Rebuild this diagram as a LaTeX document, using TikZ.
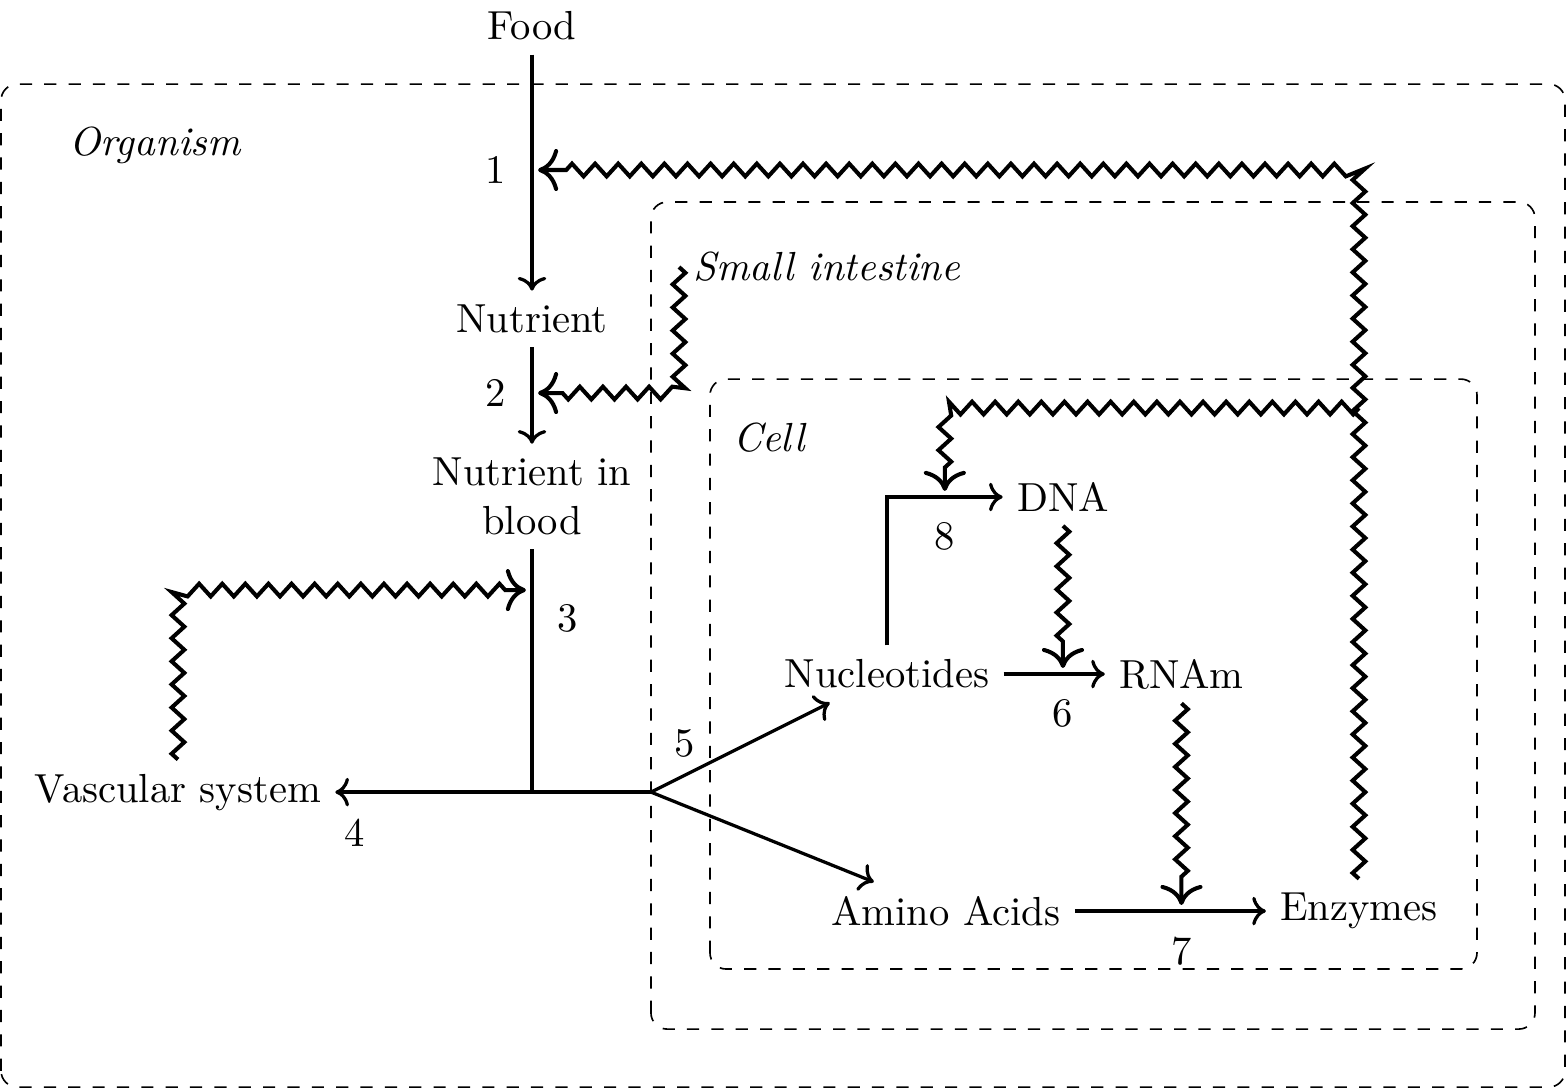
\documentclass[tikz,border=0pt]{standalone}
\usetikzlibrary{positioning}
\usetikzlibrary{calc}
\usetikzlibrary{arrows.meta}
\usetikzlibrary{decorations.pathmorphing}

\begin{document}
\begin{tikzpicture}[
    flow/.style={thick, ->},
    wavy/.style={line width=1pt, -{To[scale=1.3]}, shorten >=1.5pt, decorate,
      decoration={zigzag, segment length=2mm, amplitude=0.55mm,
        post length=6pt}},
    region/.style={dashed, rounded corners},
    regionname/.style={font=\itshape}
  ]
  \useasboundingbox (0,0) rectangle (13.567,9.429);

  % regions
  \draw[region] (0.009,0.017) rectangle (13.55,8.701);
  \draw[region] (5.636,0.519) rectangle (13.29,7.68);
  \draw[region] (6.147,1.039) rectangle (12.788,6.147);
  \node[regionname] (organism) at (1.342,8.173) {Organism};
  \node[regionname, anchor=west] (intestine) at (5.879,7.117) {Small intestine};
  \node[regionname] (cell) at (6.658,5.636) {Cell};

  % substances
  \node (food) at (4.606,9.203) {Food};
  \node (nutrient) at (4.606,6.667) {Nutrient};
  \node[align=center] (blood) at (4.606,5.13) {Nutrient in\\blood};
  \node (vascular) at (1.541,2.571) {Vascular system};
  \node (nucleotides) at (7.68,3.593) {Nucleotides};
  \node (dna) at (9.203,5.126) {DNA};
  \node (rnam) at (10.229,3.593) {RNAm};
  \node (amino) at (8.19,1.541) {Amino Acids};
  \node (enzymes) at (11.766,1.541) {Enzymes};

  \coordinate (junction) at (4.606,2.571);
  \coordinate (split) at (5.636,2.571);
  \coordinate (c1) at (4.606,7.957);
  \coordinate (c2) at (4.606,6.026);
  \coordinate (c3) at (4.606,4.32);
  \coordinate (c6) at (dna |- rnam);
  \coordinate (c7) at (rnam |- enzymes);
  \coordinate (c8) at ($(nucleotides |- dna)!0.5!(dna.west)$);
  \coordinate (b8) at (enzymes |- 0,5.896);

  % straight steps
  \draw[flow] (food) -- (nutrient);
  \draw[flow] (nutrient) -- (blood);
  \draw[thick] (blood) |- (split);
  \draw[flow] (junction) -- (vascular) node[pos=0.9, below=1mm] (l4) {4};
  \draw[flow] (split) -- (nucleotides);
  \draw[flow] (split) -- (amino);
  \draw[flow] (nucleotides) -- (rnam);
  \draw[flow] (nucleotides) |- (dna);
  \draw[flow] (amino) -- (enzymes);

  % step numbers
  \node[left=1mm of c1] (l1) {1};
  \node[left=1mm of c2] (l2) {2};
  \node[below right=0mm and 1mm of c3] (l3) {3};
  \node[above right=1.8mm and 0.8mm of split] (l5) {5};
  \node[below=1mm of c6] (l6) {6};
  \node[below=1mm of c7] (l7) {7};
  \node[below=1mm of c8] (l8) {8};

  % regulation
  \draw[wavy] (enzymes) |- (c1);
  \draw[wavy] (b8) -| (c8);
  \draw[wavy] (intestine.west) |- (c2);
  \draw[wavy] (vascular) |- (c3);
  \draw[wavy] (dna) -- (c6);
  \draw[wavy] (rnam) -- (c7);
\end{tikzpicture}
\end{document}
